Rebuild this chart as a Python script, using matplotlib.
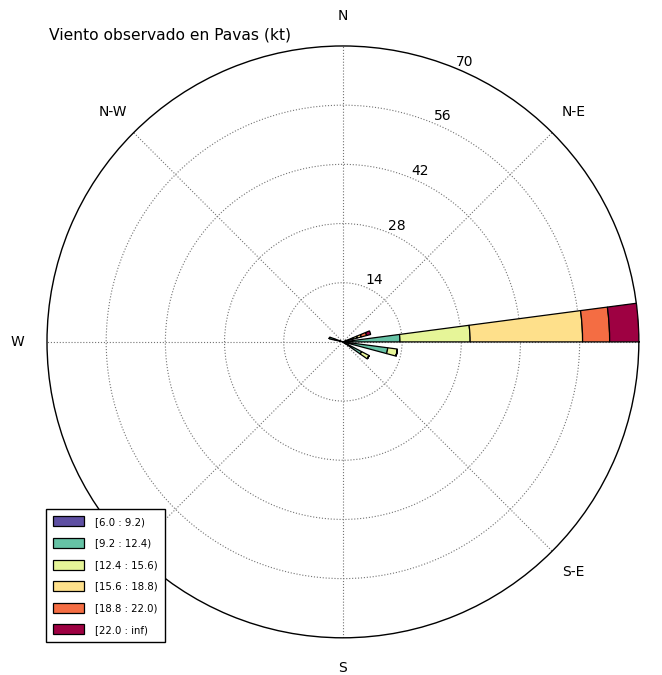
import matplotlib
matplotlib.use("Agg")
import matplotlib.pyplot as plt
import numpy as np

# wind sectors (compass degrees where each bar starts)
directions = [75, 90, 105, 125, 290]

bin_labels = ["[6.0 : 9.2)", "[9.2 : 12.4)", "[12.4 : 15.6)",
              "[15.6 : 18.8)", "[18.8 : 22.0)", "[22.0 : inf)"]
bin_colors = ["#5e4fa2", "#66c2a5", "#e6f598", "#fee08b", "#f46d43", "#9e0142"]

# frequency per speed bin, one value per direction
speed_6_9 = [1.0, 1.5, 1.0, 1.0, 2.0]
speed_9_12 = [1.5, 12.0, 9.7, 4.0, 1.3]
speed_12_15 = [1.0, 16.6, 2.3, 2.0, 0.0]
speed_15_18 = [1.0, 26.6, 0.0, 0.0, 0.0]
speed_18_22 = [1.3, 6.4, 0.0, 0.0, 0.0]
speed_22_inf = [1.0, 6.9, 0.0, 0.0, 0.0]

table = np.array([speed_6_9, speed_9_12, speed_12_15,
                  speed_15_18, speed_18_22, speed_22_inf])

radii = [14, 28, 42, 56, 70]
# E falls off the page and S-W sits under the legend in the original
compass = ["", "N-E", "N", "N-W", "W", "", "S", "S-E"]

fig = plt.figure(figsize=(6.62, 6.75), dpi=100)
ax = fig.add_axes([0.071, 0.055, 0.894, 0.877], projection="polar")

theta = np.radians(90 - np.array(directions))
width = np.radians(7.5)
bottom = np.zeros(len(directions))
for i in range(len(bin_labels)):
    ax.bar(theta, table[i], width=width, bottom=bottom, align="edge",
           color=bin_colors[i], edgecolor="black", linewidth=0.9,
           label=bin_labels[i], zorder=3)
    bottom = bottom + table[i]

ax.set_ylim(0, 70)
ax.set_rgrids(radii[:-1], labels=[str(r) for r in radii[:-1]], angle=67.5,
              fontsize=10)
ax.set_thetagrids(np.arange(0, 360, 45), labels=compass, fontsize=10)
ax.tick_params(axis="x", pad=11)
ax.grid(True, linestyle=":", color="0.45", linewidth=0.8)
ax.spines["polar"].set_linewidth(1.0)

# label for the outer ring
ax.text(np.radians(66.5), 72.2, "70", ha="center", va="center", fontsize=10)

fig.text(0.074, 0.948, "Viento observado en Pavas (kt)", fontsize=11.2,
         ha="left", va="center")

leg = fig.legend(loc="lower left", bbox_to_anchor=(0.0695, 0.049),
                 bbox_transform=fig.transFigure, borderaxespad=0,
                 fontsize=7.3, handlelength=3.0, handleheight=1.15,
                 labelspacing=1.1, handletextpad=1.1, borderpad=0.7,
                 fancybox=False, framealpha=1, edgecolor="black")
leg.get_frame().set_linewidth(1.0)

fig.savefig("out.png", dpi=100)
